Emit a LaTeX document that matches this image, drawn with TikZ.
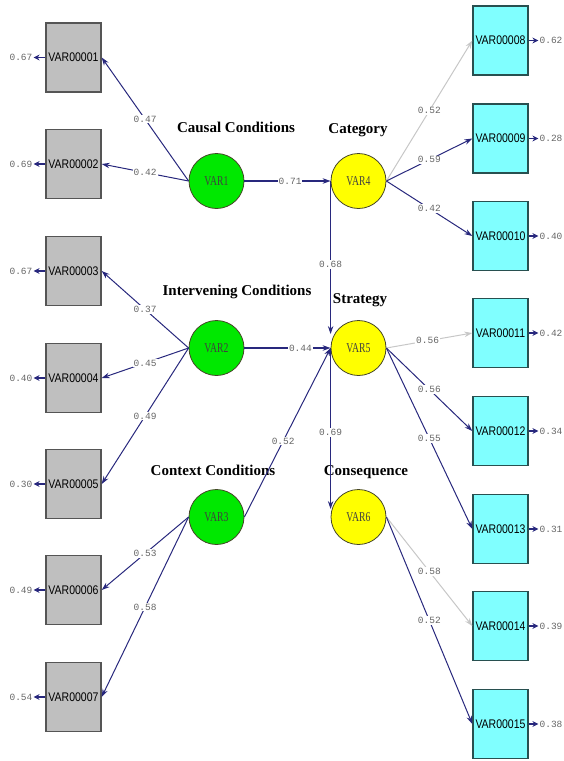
\documentclass[tikz,border=0pt]{standalone}
\usepackage{fontspec}
\usetikzlibrary{arrows.meta}
\newfontfamily\labfont{Liberation Serif}
\newfontfamily\boxfont{Liberation Sans}
\newfontfamily\numfont{Liberation Mono}
\definecolor{navy}{RGB}{40,40,125}
\definecolor{cyanbox}{RGB}{128,255,255}
\definecolor{greenlat}{RGB}{0,232,0}
\definecolor{yellowlat}{RGB}{255,255,0}
\definecolor{boxedge}{RGB}{85,85,85}
\definecolor{cyanedge}{RGB}{40,80,80}
\definecolor{latedge}{RGB}{70,70,40}
\newcommand\boxtxt[1]{\scalebox{0.84}[1]{\boxfont\fontsize{12.5}{12.5}\selectfont #1}}
\newcommand\lattxt[1]{\scalebox{0.72}[1]{\labfont\fontsize{13.5}{13.5}\selectfont #1}}
\begin{document}
\begin{tikzpicture}[x=1pt,y=-1pt,
  obs/.style={draw=boxedge, line width=1.4pt, fill=black!25, minimum width=55pt, minimum height=69pt, inner sep=0pt},
  ind/.style={obs, draw=cyanedge, fill=cyanbox},
  lat/.style={circle, draw=latedge, line width=0.8pt, minimum size=55pt, inner sep=0pt, text=black!75},
  con/.style={draw=navy, line width=1pt, -{Stealth[length=8pt,width=5.5pt]}},
  faint/.style={con, draw=black!22},
  coef/.style={fill=white, inner sep=1pt, text=black!60, font=\numfont\fontsize{9.5}{10}\selectfont},
  errn/.style={inner sep=1pt, text=black!60, font=\numfont\fontsize{9.5}{10}\selectfont},
  errarrow/.style={draw=navy, line width=1.4pt, -{Stealth[length=6pt,width=6pt]}},
  title/.style={anchor=base, font=\labfont\bfseries\fontsize{15}{15}\selectfont}
]
\useasboundingbox (0,0) rectangle (564,761);

% latent variables
\node[lat, fill=greenlat] (v1) at (216.5,181) {\lattxt{VAR1}};
\node[lat, fill=greenlat] (v2) at (216.5,348) {\lattxt{VAR2}};
\node[lat, fill=greenlat] (v3) at (216.5,517) {\lattxt{VAR3}};
\node[lat, fill=yellowlat] (v4) at (358.5,181) {\lattxt{VAR4}};
\node[lat, fill=yellowlat] (v5) at (358.5,348) {\lattxt{VAR5}};
\node[lat, fill=yellowlat] (v6) at (358.5,517) {\lattxt{VAR6}};

% titles
\node[title] (t1) at (236,132) {Causal Conditions};
\node[title] (t4) at (358,133) {Category};
\node[title] (t2) at (237,295) {Intervening Conditions};
\node[title] (t5) at (360,303) {Strategy};
\node[title] (t3) at (213,475) {Context Conditions};
\node[title] (t6) at (366,475) {Consequence};

% left observed boxes
\node[obs] (b1) at (73.5,57.5) {\boxtxt{VAR00001}};
\node[obs] (b2) at (73.5,164) {\boxtxt{VAR00002}};
\node[obs] (b3) at (73.5,271) {\boxtxt{VAR00003}};
\node[obs] (b4) at (73.5,378) {\boxtxt{VAR00004}};
\node[obs] (b5) at (73.5,484) {\boxtxt{VAR00005}};
\node[obs] (b6) at (73.5,590) {\boxtxt{VAR00006}};
\node[obs] (b7) at (73.5,697) {\boxtxt{VAR00007}};

% right observed boxes
\node[ind] (c8) at (500.5,40.5) {\boxtxt{VAR00008}};
\node[ind] (c9) at (500.5,138.5) {\boxtxt{VAR00009}};
\node[ind] (c10) at (500.5,236) {\boxtxt{VAR00010}};
\node[ind] (c11) at (500.5,333) {\boxtxt{VAR00011}};
\node[ind] (c12) at (500.5,431) {\boxtxt{VAR00012}};
\node[ind] (c13) at (500.5,529) {\boxtxt{VAR00013}};
\node[ind] (c14) at (500.5,626) {\boxtxt{VAR00014}};
\node[ind] (c15) at (500.5,724) {\boxtxt{VAR00015}};

% error values left
\node[errn] (e1) at (21,57.5) {0.67};
\node[errn] (e2) at (21,164) {0.69};
\node[errn] (e3) at (21,271) {0.67};
\node[errn] (e4) at (21,378) {0.40};
\node[errn] (e5) at (21,484) {0.30};
\node[errn] (e6) at (21,590) {0.49};
\node[errn] (e7) at (21,697) {0.54};
\foreach \i in {1,...,7} {\draw[errarrow] (b\i.west) -- (e\i.east);}

% error values right
\node[errn] (f8) at (551,40.5) {0.62};
\node[errn] (f9) at (551,138.5) {0.28};
\node[errn] (f10) at (551,236) {0.40};
\node[errn] (f11) at (551,333) {0.42};
\node[errn] (f12) at (551,431) {0.34};
\node[errn] (f13) at (551,529) {0.31};
\node[errn] (f14) at (551,626) {0.39};
\node[errn] (f15) at (551,724) {0.38};
\foreach \i in {8,...,15} {\draw[errarrow] (c\i.east) -- (f\i.west);}

% loadings, left
\draw[con] (v1.west) -- node[coef] {0.47} (b1.east);
\draw[con] (v1.west) -- node[coef] {0.42} (b2.east);
\draw[con] (v2.west) -- node[coef] {0.37} (b3.east);
\draw[con] (v2.west) -- node[coef] {0.45} (b4.east);
\draw[con] (v2.west) -- node[coef] {0.49} (b5.east);
\draw[con] (v3.west) -- node[coef] {0.53} (b6.east);
\draw[con] (v3.west) -- node[coef] {0.58} (b7.east);

% loadings, right
\draw[faint] (v4.east) -- node[coef] {0.52} (c8.west);
\draw[con] (v4.east) -- node[coef] {0.59} (c9.west);
\draw[con] (v4.east) -- node[coef] {0.42} (c10.west);
\draw[faint] (v5.east) -- node[coef, pos=0.48] {0.56} (c11.west);
\draw[con] (v5.east) -- node[coef] {0.56} (c12.west);
\draw[con] (v5.east) -- node[coef] {0.55} (c13.west);
\draw[faint] (v6.east) -- node[coef] {0.58} (c14.west);
\draw[con] (v6.east) -- node[coef] {0.52} (c15.west);

% structural paths
\draw[con, line width=1.4pt] (v1.east) -- node[coef, pos=0.53] {0.71} (v4.west);
\draw[con, line width=1.4pt] (v2.east) -- node[coef, pos=0.65] {0.44} (v5.west);
\draw[con] (v3.east) -- node[coef, pos=0.45] {0.52} (v5.west);
\draw[con, shorten >=14pt] (v4.west) -- node[coef] {0.68} (v5.west);
\draw[con, shorten >=8pt] (v5.west) -- node[coef, pos=0.5] {0.69} (v6.west);
\end{tikzpicture}
\end{document}
